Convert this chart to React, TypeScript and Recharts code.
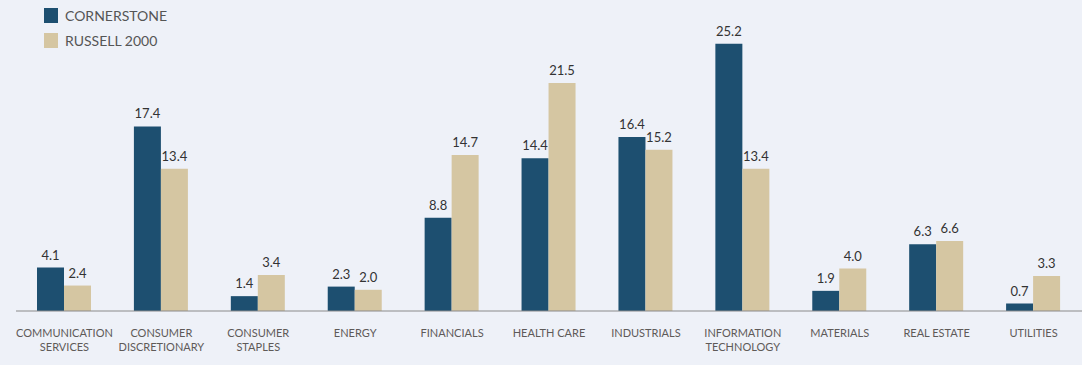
import { BarChart, Bar, XAxis, YAxis, LabelList } from 'recharts';

const sectors = [
  'COMMUNICATION\nSERVICES',
  'CONSUMER\nDISCRETIONARY',
  'CONSUMER\nSTAPLES',
  'ENERGY',
  'FINANCIALS',
  'HEALTH CARE',
  'INDUSTRIALS',
  'INFORMATION\nTECHNOLOGY',
  'MATERIALS',
  'REAL ESTATE',
  'UTILITIES',
];
const cornerstone = [4.1, 17.4, 1.4, 2.3, 8.8, 14.4, 16.4, 25.2, 1.9, 6.3, 0.7];
const russell2000 = [2.4, 13.4, 3.4, 2.0, 14.7, 21.5, 15.2, 13.4, 4.0, 6.6, 3.3];

const DARK = '#1d4f70';
const TAN = '#d5c6a2';
const BG = '#eef1f8';
const FONT = 'Lato, "Open Sans", sans-serif';

const data = sectors.map((s, i) => ({
  sector: s,
  cornerstone: cornerstone[i],
  russell: russell2000[i],
}));

const SectorTick = ({ x, y, payload }: any) => {
  const lines = String(payload.value).split('\n');
  return (
    <text x={x} y={y} textAnchor="middle" fill="#5e5a58" fontSize={11} fontFamily={FONT}>
      {lines.map((l, i) => (
        <tspan key={i} x={x} dy={i === 0 ? 18 : 14}>
          {l}
        </tspan>
      ))}
    </text>
  );
};

const fmt = (v: any) => Number(v).toFixed(1);

export default function App() {
  return (
    <div style={{ position: 'absolute', left: 0, top: 0, width: 1082, height: 365, background: BG }}>
      <div style={{ position: 'absolute', left: 44, top: 8, fontFamily: FONT, fontSize: 14, color: '#555', zIndex: 2 }}>
        <div style={{ display: 'flex', alignItems: 'center', height: 15, marginBottom: 10 }}>
          <span style={{ width: 14, height: 15, background: DARK, marginRight: 7 }} />
          CORNERSTONE
        </div>
        <div style={{ display: 'flex', alignItems: 'center', height: 15 }}>
          <span style={{ width: 14, height: 15, background: TAN, marginRight: 7 }} />
          RUSSELL 2000
        </div>
      </div>
      <BarChart
        width={1082}
        height={365}
        data={data}
        margin={{ top: 14, right: 0, left: 16, bottom: 4 }}
        barGap={0}
        barCategoryGap={0}
      >
        <XAxis
          dataKey="sector"
          interval={0}
          height={50}
          tick={<SectorTick />}
          tickLine={false}
          axisLine={{ stroke: '#8a8a8a' }}
        />
        <YAxis hide domain={[0, 28]} />
        <Bar dataKey="cornerstone" fill={DARK} barSize={27} isAnimationActive={false}>
          <LabelList dataKey="cornerstone" position="top" offset={8} formatter={fmt} fill="#333" fontSize={13} fontFamily={FONT} />
        </Bar>
        <Bar dataKey="russell" fill={TAN} barSize={27} isAnimationActive={false}>
          <LabelList dataKey="russell" position="top" offset={8} formatter={fmt} fill="#333" fontSize={13} fontFamily={FONT} />
        </Bar>
      </BarChart>
    </div>
  );
}
